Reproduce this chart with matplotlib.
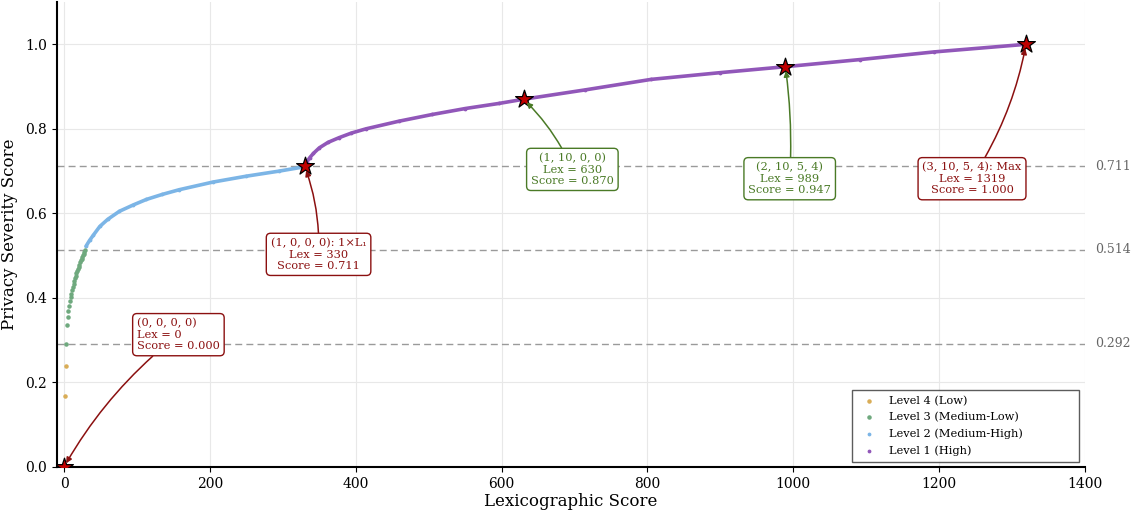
import matplotlib
matplotlib.use("Agg")
import matplotlib.pyplot as plt

plt.rcParams['font.family'] = ['DejaVu Serif']

# ---- data ----
lvl4_lex = [1, 2]
lvl4_score = [0.168, 0.238]

lvl3_lex = list(range(3, 30))
lvl3_score = [0.292, 0.336, 0.355, 0.370, 0.381, 0.393, 0.402, 0.410, 0.418, 0.426,
              0.433, 0.440, 0.446, 0.452, 0.458, 0.464, 0.469, 0.474, 0.479, 0.484,
              0.489, 0.493, 0.497, 0.501, 0.505, 0.509, 0.513]

lvl2_lex = [30, 35, 40, 49, 60, 76, 95, 113, 135, 158, 204, 250, 295, 329]
lvl2_score = [0.522, 0.536, 0.548, 0.569, 0.586, 0.605, 0.620, 0.633, 0.645, 0.656,
              0.674, 0.688, 0.700, 0.710]

lvl1_lex = [330, 333, 337, 342, 350, 362, 377, 394, 414, 459, 505, 550, 596, 630, 714,
            805, 900, 989, 1092, 1193, 1319]
lvl1_score = [0.712, 0.722, 0.732, 0.742, 0.755, 0.768, 0.779, 0.790, 0.800, 0.818,
              0.834, 0.848, 0.860, 0.870, 0.892, 0.917, 0.933, 0.947, 0.964, 0.982,
              1.000]

thresholds = [0.292, 0.514, 0.711]

key_lex = [0, 330, 630, 989, 1319]
key_score = [0.000, 0.711, 0.870, 0.947, 1.000]
key_labels = ["(0, 0, 0, 0)\nLex = 0\nScore = 0.000",
              "(1, 0, 0, 0): 1×L₁\nLex = 330\nScore = 0.711",
              "(1, 10, 0, 0)\nLex = 630\nScore = 0.870",
              "(2, 10, 5, 4)\nLex = 989\nScore = 0.947",
              "(3, 10, 5, 4): Max\nLex = 1319\nScore = 1.000"]
key_text_pos = [(100, 0.313), (349, 0.503), (697, 0.704), (995, 0.682), (1245, 0.682)]

level_names = ["Level 4 (Low)", "Level 3 (Medium-Low)", "Level 2 (Medium-High)", "Level 1 (High)"]
level_colors = ["#d9ad57", "#6fa97e", "#7cb5e6", "#9157b9"]

RED = "#8b1010"
GREEN = "#4a7a26"
key_colors = [RED, RED, GREEN, GREEN, RED]
key_ha = ['left', 'center', 'center', 'center', 'center']
key_rad = [0.1, 0.1, 0.1, 0.05, 0.1]

fig = plt.figure(figsize=(11.35, 5.12), dpi=100)
ax = fig.add_axes([0.050, 0.088, 0.906, 0.908])

ax.grid(True, color="#e8e8e8", linewidth=0.8, zorder=0)
ax.set_axisbelow(True)

for t in thresholds:
    ax.axhline(t, color="#9a9a9a", linestyle=(0, (5, 3)), linewidth=1.0, zorder=1)
    ax.text(1414, t, f"{t:.3f}", color="#666666", fontsize=9, va='center', ha='left',
            clip_on=False)

ax.scatter(lvl4_lex, lvl4_score, s=5, color=level_colors[0], label=level_names[0], zorder=3)
ax.scatter(lvl3_lex, lvl3_score, s=5, color=level_colors[1], label=level_names[1], zorder=3)
ax.scatter(lvl2_lex, lvl2_score, s=3, color=level_colors[2], label=level_names[2], zorder=2)
ax.plot(lvl2_lex, lvl2_score, color=level_colors[2], lw=2.6, solid_capstyle='round', zorder=3)
ax.scatter(lvl1_lex, lvl1_score, s=3, color=level_colors[3], label=level_names[3], zorder=2)
ax.plot(lvl1_lex, lvl1_score, color=level_colors[3], lw=2.6, solid_capstyle='round', zorder=3)

ax.scatter(key_lex, key_score, marker='*', s=180, color="#c00000", edgecolor='black',
           linewidth=0.9, zorder=5)

for lx, sc, lab, pos, col, ha, rad in zip(key_lex, key_score, key_labels, key_text_pos,
                                          key_colors, key_ha, key_rad):
    ax.annotate(lab, xy=(lx, sc), xytext=pos, fontsize=8.2, color=col, ha=ha, va='center',
                multialignment=ha,
                bbox=dict(boxstyle="round,pad=0.38", fc="white", ec=col, lw=1.0),
                arrowprops=dict(arrowstyle="-|>", color=col, lw=1.1,
                                connectionstyle=f"arc3,rad={rad}", shrinkA=0, shrinkB=3),
                zorder=6)

ax.set_xlim(-10, 1400)
ax.set_ylim(0, 1.1)
ax.set_xticks(range(0, 1401, 200))
ax.set_yticks([0.0, 0.2, 0.4, 0.6, 0.8, 1.0])
ax.tick_params(labelsize=10)
ax.set_xlabel("Lexicographic Score", fontsize=12, labelpad=2)
ax.set_ylabel("Privacy Severity Score", fontsize=12, labelpad=5)
for s in ['top', 'right']:
    ax.spines[s].set_visible(False)
for s in ['left', 'bottom']:
    ax.spines[s].set_linewidth(1.5)
    ax.spines[s].set_color('black')

leg = ax.legend(loc='lower left', fontsize=8.2, frameon=True, fancybox=False,
                markerscale=1.0, borderpad=0.5, labelspacing=0.55, handletextpad=0.8,
                borderaxespad=0, mode='expand',
                bbox_to_anchor=(0.773, 0.011, 0.221, 0.15))
leg.get_frame().set_edgecolor('#333333')
leg.get_frame().set_linewidth(1.0)

fig.savefig("out.png", dpi=100)
